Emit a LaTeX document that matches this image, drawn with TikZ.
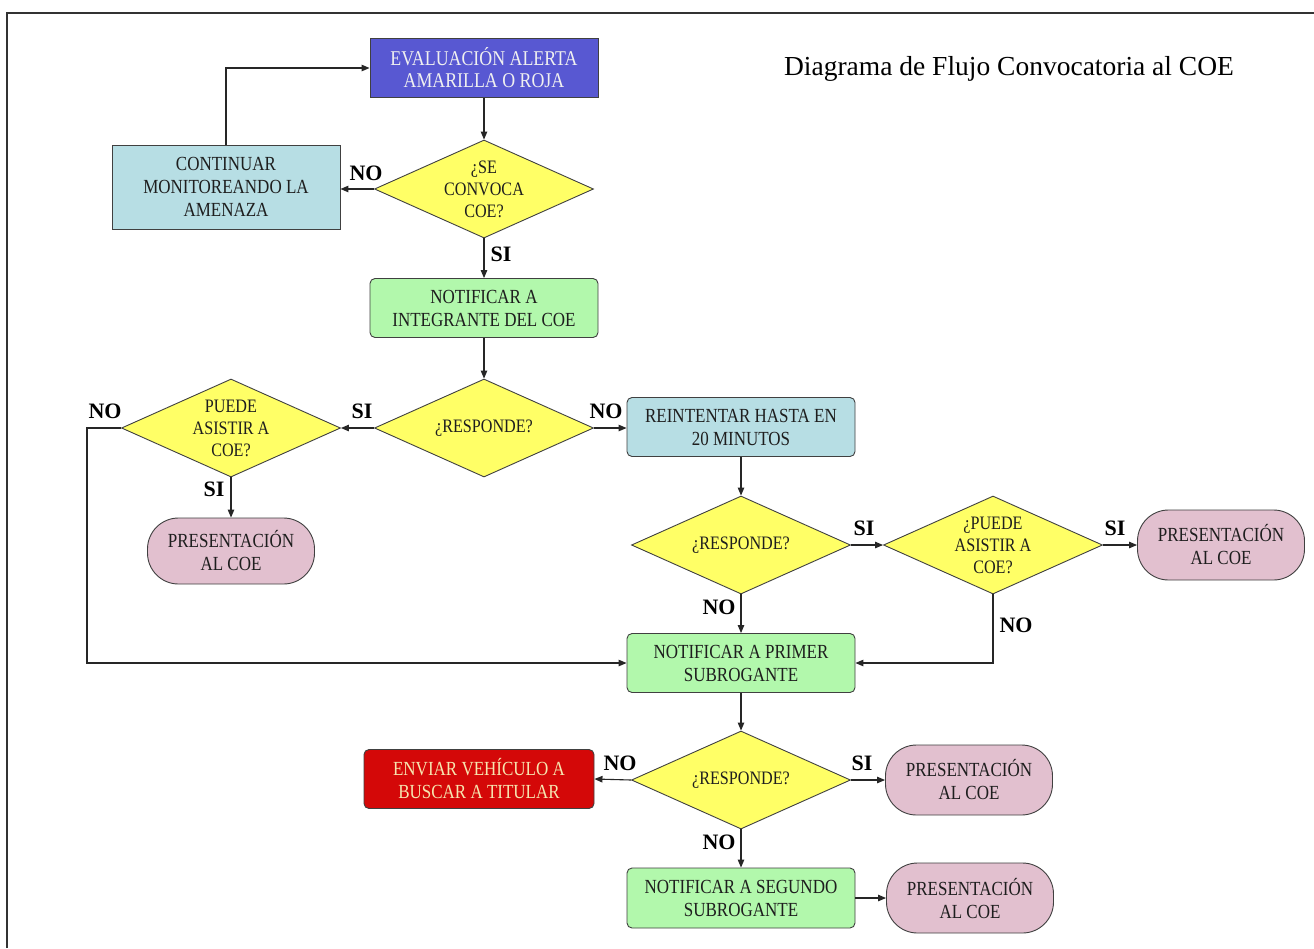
\documentclass[tikz,border=0pt]{standalone}
\usepackage{fontspec}
\setmainfont{Liberation Serif}
\newfontfamily\condfont[FakeStretch=0.85]{Liberation Serif}
\usetikzlibrary{shapes.geometric,arrows.meta}
\definecolor{evalblue}{RGB}{88,88,210}
\definecolor{teal}{RGB}{183,222,228}
\definecolor{lgreen}{RGB}{178,248,172}
\definecolor{dyellow}{RGB}{255,255,102}
\definecolor{pink}{RGB}{226,192,207}
\definecolor{dred}{RGB}{212,8,8}
\definecolor{cream}{RGB}{246,230,176}
\definecolor{txt}{RGB}{30,30,30}
\tikzset{
  boxbase/.style={draw=black!75, line width=0.9pt, align=center, inner sep=2pt,
    text=txt, font=\condfont\fontsize{20}{23}\selectfont},
  sqbox/.style={boxbase, minimum width=228, minimum height=59},
  rbox/.style={boxbase, rounded corners=5pt, minimum width=228, minimum height=59},
  dec/.style={boxbase, diamond, fill=dyellow, minimum width=219, minimum height=98, inner sep=0pt, aspect=2.2,
    font=\condfont\fontsize{19}{22}\selectfont},
  pill/.style={boxbase, fill=pink, rounded corners=31pt, minimum width=167, minimum height=66},
  lab/.style={font=\bfseries\fontsize{22}{22}\selectfont, text=black, inner sep=1pt},
  arr/.style={draw=black!85, line width=1.1pt, -{Triangle[length=8pt,width=6.5pt]}}
}
\begin{document}
\begin{tikzpicture}[x=1pt,y=-1pt]
\useasboundingbox (0,0) rectangle (1314,948);
\fill[white] (0,0) rectangle (1314,948);
\draw[black!80, line width=2pt] (7,948) -- (7,13) -- (1314,13);

\node[font=\fontsize{27.5}{30}\selectfont] (title) at (1009,69) {Diagrama de Flujo Convocatoria al COE};

\node[sqbox, fill=evalblue, text=white!94!black, font=\condfont\fontsize{21}{22}\selectfont] (eval) at (484,68) {EVALUACIÓN ALERTA\\AMARILLA O ROJA};
\node[dec] (d1) at (484,189) {¿SE\\CONVOCA\\COE?};
\node[sqbox, fill=teal, minimum height=84] (cont) at (226,187) {CONTINUAR\\MONITOREANDO LA\\AMENAZA};
\node[rbox, fill=lgreen] (not1) at (484,308) {NOTIFICAR A\\INTEGRANTE DEL COE};

\node[dec] (r1) at (484,428) {¿RESPONDE?};
\node[dec] (p1) at (231,428) {PUEDE\\ASISTIR A\\COE?};
\node[pill] (pres1) at (231,551) {PRESENTACIÓN\\AL COE};
\node[rbox, fill=teal] (rein) at (741,427) {REINTENTAR HASTA EN\\20 MINUTOS};

\node[dec] (r2) at (741,545) {¿RESPONDE?};
\node[dec] (p2) at (993,545) {¿PUEDE\\ASISTIR A\\COE?};
\node[pill, minimum height=70] (pres2) at (1221,545) {PRESENTACIÓN\\AL COE};

\node[rbox, fill=lgreen] (np) at (741,663) {NOTIFICAR A PRIMER\\SUBROGANTE};
\node[dec] (r3) at (741,780) {¿RESPONDE?};
\node[rbox, fill=dred, text=cream, minimum width=230] (env) at (479,779) {ENVIAR VEHÍCULO A\\BUSCAR A TITULAR};
\node[pill, minimum height=70] (pres3) at (969,780) {PRESENTACIÓN\\AL COE};
\node[rbox, fill=lgreen, minimum height=60] (ns) at (741,898) {NOTIFICAR A SEGUNDO\\SUBROGANTE};
\node[pill, minimum height=70] (pres4) at (970,898) {PRESENTACIÓN\\AL COE};

\coordinate (loopc) at (87,428);

% connectors
\draw[arr] (cont.north) |- (eval.west);
\draw[arr] (eval.south) -- (d1.north);
\draw[arr] (d1.west) -- (d1.west -| cont.east);
\draw[arr] (d1.south) -- (not1.north);
\draw[arr] (not1.south) -- (r1.north);
\draw[arr] (r1.west) -- (p1.east);
\draw[arr] (r1.east) -- (r1.east -| rein.west);
\draw[arr] (p1.south) -- (pres1.north);
\draw[arr] (p1.west) -- (loopc) |- (np.west);
\draw[arr] (rein.south) -- (r2.north);
\draw[arr] (r2.east) -- (p2.west);
\draw[arr] (p2.east) -- (pres2.west);
\draw[arr] (r2.south) -- (np.north);
\draw[arr] (p2.south) |- (np.east);
\draw[arr] (np.south) -- (r3.north);
\draw[arr] (r3.west) -- (env.east);
\draw[arr] (r3.east) -- (pres3.west);
\draw[arr] (r3.south) -- (ns.north);
\draw[arr] (ns.east) -- (pres4.west);

% labels
\node[lab] (l1) at (366,173) {NO};
\node[lab] (l2) at (501,254) {SI};
\node[lab] (l3) at (105,411) {NO};
\node[lab] (l4) at (362,411) {SI};
\node[lab] (l5) at (606,411) {NO};
\node[lab] (l6) at (214,489) {SI};
\node[lab] (l7) at (864,528) {SI};
\node[lab] (l8) at (1115,528) {SI};
\node[lab] (l9) at (719,607) {NO};
\node[lab] (l10) at (1016,625) {NO};
\node[lab] (l11) at (620,763) {NO};
\node[lab] (l12) at (862,763) {SI};
\node[lab] (l13) at (719,842) {NO};
\end{tikzpicture}
\end{document}
